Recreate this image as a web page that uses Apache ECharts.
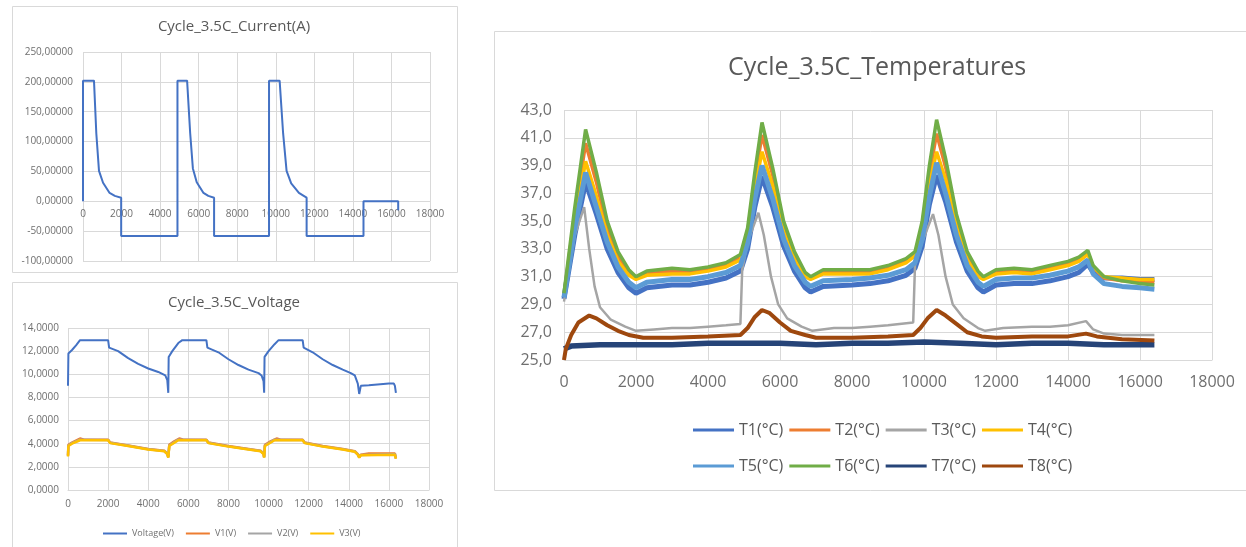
<!DOCTYPE html>
<html><head><meta charset="utf-8">
<script src="https://cdn.jsdelivr.net/npm/echarts@6/dist/echarts.min.js"></script>
<style>html,body{margin:0;padding:0;background:#fff}#c{width:1246px;height:547px}</style>
</head><body><div id="c"></div>
<script>
// ---------- data: Current (A) ----------
const currentA = [[0,0],[0,202],[570,202],[690,114],[830,51],[1040,31],[1380,14],[1650,9],[1980,6],[1980,-58],[4900,-58],[4900,202],[5400,202],[5560,114],[5700,55],[5900,32],[6250,14],[6500,9],[6800,6],[6800,-58],[9650,-58],[9650,202],[10200,202],[10380,114],[10560,51],[10800,30],[11200,14],[11450,9],[11600,6],[11600,-58],[14550,-58],[14550,0],[16350,0],[16350,-15]];

// ---------- data: Voltage ----------
const voltageV = [[0,9.0],[20,11.8],[200,12.1],[400,12.5],[600,12.95],[2000,12.95],[2050,12.3],[2500,12.0],[3000,11.4],[3500,10.9],[4000,10.5],[4500,10.2],[4850,9.9],[4950,9.5],[5000,8.4],[5020,11.5],[5200,12.0],[5500,12.7],[5700,12.95],[6900,12.95],[6950,12.3],[7500,11.9],[8000,11.3],[8500,10.8],[9000,10.4],[9500,10.1],[9650,9.9],[9750,9.4],[9780,8.4],[9800,11.5],[10000,12.0],[10300,12.6],[10500,12.95],[11700,12.95],[11750,12.3],[12200,11.9],[12700,11.3],[13200,10.8],[13700,10.4],[14100,10.1],[14300,9.9],[14450,9.2],[14520,8.3],[14600,9.0],[15000,9.05],[16000,9.2],[16250,9.2],[16300,9.0],[16350,8.4]];
const v1V = [[0,3.0],[20,3.9],[200,4.1],[600,4.45],[800,4.35],[2000,4.35],[2100,4.1],[3000,3.85],[4000,3.55],[4800,3.4],[4950,3.15],[5000,2.85],[5050,3.9],[5300,4.2],[5550,4.45],[5750,4.35],[6900,4.35],[7000,4.1],[8000,3.8],[9000,3.55],[9600,3.4],[9750,3.15],[9780,2.85],[9820,3.9],[10100,4.2],[10400,4.45],[10600,4.35],[11700,4.35],[11800,4.1],[12700,3.8],[13700,3.55],[14300,3.35],[14450,3.1],[14520,2.85],[14600,3.05],[15000,3.15],[16300,3.15],[16350,2.75]];
const v2V = [[0,2.95],[20,3.85],[200,4.05],[600,4.35],[2000,4.32],[2100,4.08],[3000,3.82],[4000,3.52],[4800,3.37],[4950,3.12],[5000,2.82],[5050,3.85],[5500,4.35],[6900,4.32],[7000,4.08],[8000,3.77],[9000,3.52],[9600,3.37],[9750,3.12],[9780,2.82],[9820,3.85],[10300,4.35],[11700,4.32],[11800,4.08],[12700,3.77],[13700,3.52],[14300,3.32],[14450,3.07],[14520,2.82],[14600,3.02],[16300,3.1],[16350,2.72]];
const v3V = [[0,2.9],[20,3.8],[200,4.0],[600,4.3],[2000,4.3],[2100,4.05],[3000,3.8],[4000,3.5],[4800,3.35],[4950,3.1],[5000,2.8],[5050,3.8],[5500,4.3],[6900,4.3],[7000,4.05],[8000,3.75],[9000,3.5],[9600,3.35],[9750,3.1],[9780,2.8],[9820,3.8],[10300,4.3],[11700,4.3],[11800,4.05],[12700,3.75],[13700,3.5],[14300,3.3],[14450,3.05],[14520,2.8],[14600,3.0],[16300,3.05],[16350,2.7]];
const voltageNames = ['Voltage(V)','V1(V)','V2(V)','V3(V)'];

// ---------- data: Temperatures ----------
const t1 = [[0,29.4],[300,34.0],[600,37.8],[900,35.5],[1200,33.0],[1500,31.3],[1800,30.2],[2000,29.8],[2300,30.2],[3000,30.4],[3500,30.4],[4000,30.6],[4500,30.9],[4900,31.4],[5100,33.0],[5300,36.0],[5500,38.2],[5800,36.0],[6100,33.2],[6400,31.4],[6700,30.2],[6850,29.9],[7200,30.3],[8000,30.4],[8500,30.5],[9000,30.7],[9500,31.1],[9750,31.6],[9950,33.2],[10150,36.2],[10350,38.3],[10600,36.4],[10900,33.5],[11200,31.4],[11500,30.2],[11650,29.9],[12000,30.4],[12500,30.5],[13000,30.5],[13500,30.7],[14000,31.0],[14300,31.3],[14550,31.9],[14700,31.3],[15000,30.9],[15500,30.9],[16000,30.8],[16400,30.8]];
const t2 = [[0,29.7],[300,35.5],[600,40.6],[900,37.8],[1200,34.5],[1500,32.4],[1800,31.2],[2000,30.9],[2300,31.2],[3000,31.4],[3500,31.3],[4000,31.5],[4500,31.8],[4900,32.4],[5100,34.2],[5300,38.0],[5500,41.2],[5800,38.3],[6100,34.6],[6400,32.5],[6700,31.1],[6850,30.9],[7200,31.3],[8000,31.3],[8500,31.3],[9000,31.6],[9500,32.1],[9750,32.6],[9950,34.7],[10150,38.4],[10350,41.3],[10600,38.9],[10900,35.0],[11200,32.5],[11500,31.2],[11650,30.9],[12000,31.3],[12500,31.4],[13000,31.3],[13500,31.6],[14000,31.9],[14300,32.2],[14550,32.7],[14700,31.7],[15000,30.9],[15500,30.7],[16000,30.7],[16400,30.6]];
const t3 = [[0,29.2],[300,34.0],[560,36.0],[700,33.0],[850,30.3],[1000,28.8],[1300,27.9],[1700,27.4],[2000,27.1],[2500,27.2],[3000,27.3],[3500,27.3],[4000,27.4],[4500,27.5],[4900,27.6],[4950,31.5],[5100,33.5],[5400,35.6],[5550,34.0],[5750,31.0],[5950,29.0],[6200,28.0],[6600,27.4],[6900,27.1],[7500,27.3],[8000,27.3],[8500,27.4],[9000,27.5],[9700,27.7],[9750,31.8],[9950,33.5],[10250,35.5],[10400,34.0],[10600,31.0],[10800,29.0],[11100,28.0],[11500,27.3],[11700,27.1],[12200,27.3],[13000,27.4],[13500,27.4],[14000,27.5],[14500,27.8],[14700,27.2],[15000,26.9],[15500,26.8],[16400,26.8]];
const t4 = [[0,29.6],[300,35.0],[600,39.3],[900,36.8],[1200,34.0],[1500,32.1],[1800,31.1],[2000,30.8],[2300,31.1],[3000,31.2],[3500,31.2],[4000,31.4],[4500,31.7],[4900,32.2],[5100,33.8],[5300,37.3],[5500,40.0],[5800,37.5],[6100,34.2],[6400,32.2],[6700,31.0],[6850,30.8],[7200,31.2],[8000,31.2],[8500,31.2],[9000,31.5],[9500,32.0],[9750,32.5],[9950,34.3],[10150,37.6],[10350,40.0],[10600,38.0],[10900,34.6],[11200,32.2],[11500,31.0],[11650,30.8],[12000,31.2],[12500,31.3],[13000,31.2],[13500,31.5],[14000,31.8],[14300,32.1],[14550,32.6],[14700,31.7],[15000,31.0],[15500,30.9],[16000,30.8],[16400,30.8]];
const t5 = [[0,29.5],[300,34.5],[600,38.5],[900,36.0],[1200,33.5],[1500,31.7],[1800,30.6],[2000,30.2],[2300,30.6],[3000,30.8],[3500,30.8],[4000,31.0],[4500,31.3],[4900,31.8],[5100,33.4],[5300,36.6],[5500,39.0],[5800,36.6],[6100,33.7],[6400,31.8],[6700,30.6],[6850,30.3],[7200,30.7],[8000,30.8],[8500,30.9],[9000,31.1],[9500,31.5],[9750,32.0],[9950,33.7],[10150,36.8],[10350,39.2],[10600,37.0],[10900,34.0],[11200,31.8],[11500,30.6],[11650,30.3],[12000,30.8],[12500,30.9],[13000,30.9],[13500,31.1],[14000,31.4],[14300,31.7],[14550,32.2],[14700,31.2],[15000,30.5],[15500,30.3],[16000,30.2],[16400,30.1]];
const t6 = [[0,29.8],[300,36.0],[600,41.6],[900,38.5],[1200,35.0],[1500,32.8],[1800,31.5],[2000,31.0],[2300,31.4],[3000,31.6],[3500,31.5],[4000,31.7],[4500,32.0],[4900,32.6],[5100,34.5],[5300,38.5],[5500,42.1],[5800,38.8],[6100,35.0],[6400,32.8],[6700,31.3],[6850,31.0],[7200,31.5],[8000,31.5],[8500,31.5],[9000,31.8],[9500,32.3],[9750,32.8],[9950,35.0],[10150,39.0],[10350,42.3],[10600,39.5],[10900,35.5],[11200,32.8],[11500,31.4],[11650,31.0],[12000,31.5],[12500,31.6],[13000,31.5],[13500,31.8],[14000,32.1],[14300,32.4],[14550,32.9],[14700,31.8],[15000,31.0],[15500,30.7],[16000,30.5],[16400,30.4]];
const t7 = [[0,25.8],[200,26.0],[1000,26.1],[2000,26.1],[3000,26.1],[4000,26.2],[5000,26.2],[6000,26.2],[7000,26.1],[8000,26.2],[9000,26.2],[10000,26.3],[11000,26.2],[12000,26.1],[13000,26.2],[14000,26.2],[15000,26.1],[16400,26.1]];
const t8 = [[0,25.0],[50,25.8],[200,26.8],[400,27.7],[700,28.2],[900,28.0],[1200,27.5],[1500,27.1],[1800,26.8],[2200,26.6],[3000,26.6],[4000,26.7],[4900,26.8],[5100,27.3],[5300,28.1],[5500,28.6],[5700,28.4],[6000,27.7],[6300,27.1],[6700,26.8],[7000,26.6],[8000,26.6],[9000,26.7],[9700,26.8],[9900,27.3],[10100,28.0],[10350,28.6],[10600,28.2],[10900,27.6],[11200,27.0],[11600,26.7],[12000,26.6],[13000,26.7],[14000,26.7],[14500,26.9],[14800,26.7],[15500,26.5],[16400,26.4]];
const tempNames = ['T1(°C)','T2(°C)','T3(°C)','T4(°C)','T5(°C)','T6(°C)','T7(°C)','T8(°C)'];
const tempData = [t1,t2,t3,t4,t5,t6,t7,t8];

// ---------- axis settings ----------
const xRange = [0, 18000, 2000];
const currentRange = [-100, 250, 50];
const voltageRange = [0, 14, 2];
const tempRange = [25, 43, 2];

const FONT = '"Open Sans", "Noto Sans", sans-serif';
const LBL = '#6f6f6f';
const GRID = '#d9d9d9';
const tempColors = ['#4472C4','#ED7D31','#A5A5A5','#FFC000','#5B9BD5','#70AD47','#264478','#9E480E'];
const voltColors = ['#4472C4','#ED7D31','#A5A5A5','#FFC000'];
const tempWidths = [5,3.5,2.5,3.5,5,3.5,5.5,4];

// current-chart grid geometry (x-axis drawn at value 0)
const curTop = 52, curHeight = 209;
const curZeroOffset = -curHeight * (0 - currentRange[0]) / (currentRange[1] - currentRange[0]);

function xAxisCfg(gi, fs, margin, offset){
  return {type:'value', gridIndex:gi, min:xRange[0], max:xRange[1], interval:xRange[2],
    offset: offset || 0,
    axisLine:{show:true, onZero:false, lineStyle:{color:GRID}}, axisTick:{show:false},
    axisLabel:{color:LBL, fontFamily:FONT, fontSize:fs, margin:margin, formatter:v=>String(v)},
    splitLine:{show:true, lineStyle:{color:GRID}}};
}
function yAxisCfg(gi, r, dec, fs, margin){
  return {type:'value', gridIndex:gi, min:r[0], max:r[1], interval:r[2],
    axisLine:{show:false}, axisTick:{show:false},
    axisLabel:{color:LBL, fontFamily:FONT, fontSize:fs, margin:margin, formatter:v=>v.toFixed(dec).replace('.',',')},
    splitLine:{show:true, lineStyle:{color:GRID}}};
}

const series = [];
series.push({name:'Current(A)', type:'line', xAxisIndex:0, yAxisIndex:0, data:currentA, symbol:'none',
  lineStyle:{color:'#4472C4', width:2}, itemStyle:{color:'#4472C4'}});
[voltageV, v1V, v2V, v3V].forEach((d,i)=>series.push({name:voltageNames[i], type:'line', xAxisIndex:1, yAxisIndex:1,
  data:d, symbol:'none', lineStyle:{color:voltColors[i], width:i===0?2:2.5}, itemStyle:{color:voltColors[i]}}));
tempData.forEach((d,i)=>series.push({name:tempNames[i], type:'line', xAxisIndex:2, yAxisIndex:2,
  data:d, symbol:'none', lineStyle:{color:tempColors[i], width:tempWidths[i]}, itemStyle:{color:tempColors[i]}}));

const chart = echarts.init(document.getElementById('c'), null, {renderer:'canvas'});
chart.setOption({
  animation:false,
  backgroundColor:'#ffffff',
  graphic:[
    {type:'rect', z:-1, shape:{x:12.5,y:6.5,width:445,height:266}, style:{fill:'#fff', stroke:GRID, lineWidth:1}},
    {type:'rect', z:-1, shape:{x:12.5,y:282.5,width:445,height:280}, style:{fill:'#fff', stroke:GRID, lineWidth:1}},
    {type:'rect', z:-1, shape:{x:494.5,y:31.5,width:780,height:459}, style:{fill:'#fff', stroke:GRID, lineWidth:1}},
    {type:'text', z:10, style:{text:'Cycle_3.5C_Current(A)', x:234, y:27, textAlign:'center', textVerticalAlign:'middle', font:'15px '+FONT, fill:'#595959'}},
    {type:'text', z:10, style:{text:'Cycle_3.5C_Voltage', x:234, y:303, textAlign:'center', textVerticalAlign:'middle', font:'15px '+FONT, fill:'#595959'}},
    {type:'text', z:10, style:{text:'Cycle_3.5C_Temperatures', x:877, y:68, textAlign:'center', textVerticalAlign:'middle', font:'25px '+FONT, fill:'#595959'}}
  ],
  grid:[
    {left:83, top:curTop, width:347, height:curHeight},
    {left:68, top:328, width:361, height:162},
    {left:564, top:110, width:648, height:250}
  ],
  xAxis:[xAxisCfg(0,10,8,curZeroOffset), xAxisCfg(1,10,9), xAxisCfg(2,16,14)],
  yAxis:[yAxisCfg(0,currentRange,5,10,10), yAxisCfg(1,voltageRange,4,10,9), yAxisCfg(2,tempRange,1,16,12)],
  legend:[
    {data:voltageNames, left:98, top:524, icon:'rect', itemWidth:24, itemHeight:2, itemGap:12,
      textStyle:{color:LBL, fontFamily:FONT, fontSize:9}},
    {data:tempNames.slice(0,4), left:688, top:417, icon:'rect', itemWidth:41, itemHeight:3, itemGap:6,
      textStyle:{color:'#595959', fontFamily:FONT, fontSize:16}},
    {data:tempNames.slice(4), left:688, top:453, icon:'rect', itemWidth:41, itemHeight:3, itemGap:6,
      textStyle:{color:'#595959', fontFamily:FONT, fontSize:16}}
  ],
  series:series
});
</script>
</body></html>
